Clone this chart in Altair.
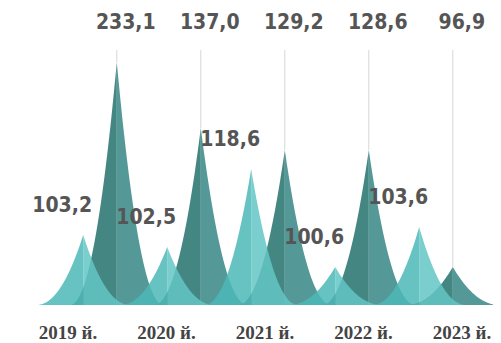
import altair as alt
import pandas as pd
import numpy as np

# ---- data ----
years = ["2019 й.", "2020 й.", "2021 й.", "2022 й.", "2023 й."]
light_labels = ["103,2", "102,5", "118,6", "100,6", "103,6"]
dark_labels = ["233,1", "137,0", "129,2", "128,6", "96,9"]
# peak heights as drawn in the picture (pixels above the baseline)
light_heights = [70, 58, 136, 38, 78]
dark_heights = [243, 177, 155, 155, 38]

# ---- peak shape (styling of the pictorial "spike" marks) ----
HALF = 0.56   # half base width, in x units
POW = 2.1     # concavity of the flanks
OFF = 0.2     # light peak sits left of the year position, dark peak right
T = np.linspace(0, 1, 45)

rows = []
for i in range(len(years)):
    for kind, off, h in (("light", -OFF, light_heights[i]), ("dark", OFF, dark_heights[i])):
        for side, sgn in (("L", -1), ("R", 1)):
            for t in T:
                rows.append(dict(shape=f"{kind}{i}{side}", kind=kind, part=kind + side,
                                 x=i + off + sgn * HALF * t, y=h * (1 - t) ** POW))
shapes = pd.DataFrame(rows)

peaks = pd.DataFrame({
    "year": years,
    "xl": [i - OFF for i in range(len(years))],
    "xd": [i + OFF for i in range(len(years))],
    "lh": light_heights,
    "dh": dark_heights,
    "llab": light_labels,
    "dlab": dark_labels,
})

xs = alt.Scale(domain=[0, 4], range=[92, 428])
ys = alt.Scale(domain=[0, 297], range=[297, 0])
cscale = alt.Scale(domain=["darkL", "darkR", "lightL", "lightR"],
                   range=["#3a7f7b", "#4b9491", "#4cb7b7", "#63c5c5"])

rules = alt.Chart(peaks).mark_rule(color="#d6d6d6", strokeWidth=1).encode(
    x=alt.X("xd:Q", scale=xs, axis=None),
    y=alt.Y("dh:Q", scale=ys, axis=None),
    y2=alt.value(42),
)

dark = alt.Chart(shapes).transform_filter(alt.datum.kind == "dark").mark_area(opacity=0.95).encode(
    x=alt.X("x:Q", scale=xs, axis=None),
    y=alt.Y("y:Q", scale=ys, axis=None, stack=None),
    color=alt.Color("part:N", scale=cscale, legend=None),
    detail="shape:N",
)

light = alt.Chart(shapes).transform_filter(alt.datum.kind == "light").mark_area(opacity=0.85).encode(
    x=alt.X("x:Q", scale=xs, axis=None),
    y=alt.Y("y:Q", scale=ys, axis=None, stack=None),
    color=alt.Color("part:N", scale=cscale, legend=None),
    detail="shape:N",
)

FONT_NUM = "DejaVu Sans Condensed, sans-serif"

top_labels = alt.Chart(peaks).mark_text(
    font=FONT_NUM, fontWeight="bold", fontSize=21, color="#555555",
    align="center", baseline="middle", dx=9,
).encode(
    x=alt.X("xd:Q", scale=xs, axis=None),
    y=alt.value(15),
    text="dlab:N",
)

light_text = alt.Chart(peaks).mark_text(
    font=FONT_NUM, fontWeight="bold", fontSize=21, color="#555555",
    align="center", baseline="middle", dx=-21, dy=-29,
).encode(
    x=alt.X("xl:Q", scale=xs, axis=None),
    y=alt.Y("lh:Q", scale=ys, axis=None),
    text="llab:N",
)

year_text = alt.Chart(peaks).mark_text(
    font="Liberation Serif, serif", fontWeight="bold", fontSize=19, color="#444444",
    align="center", baseline="middle",
).encode(
    x=alt.X("year:O", sort=None, scale=alt.Scale(type="point", range=[60, 454], padding=0), axis=None),
    y=alt.value(325),
    text="year:N",
)

peaks_layer = alt.layer(rules, dark, light, top_labels, light_text)

chart = alt.layer(peaks_layer, year_text).resolve_scale(x="independent").properties(
    width=485, height=335, autosize=alt.AutoSizeParams(type="none"), padding=0,
    background="white",
).configure_view(strokeWidth=0)

chart.save("out.html", embed_options={"renderer": "svg", "actions": False})
